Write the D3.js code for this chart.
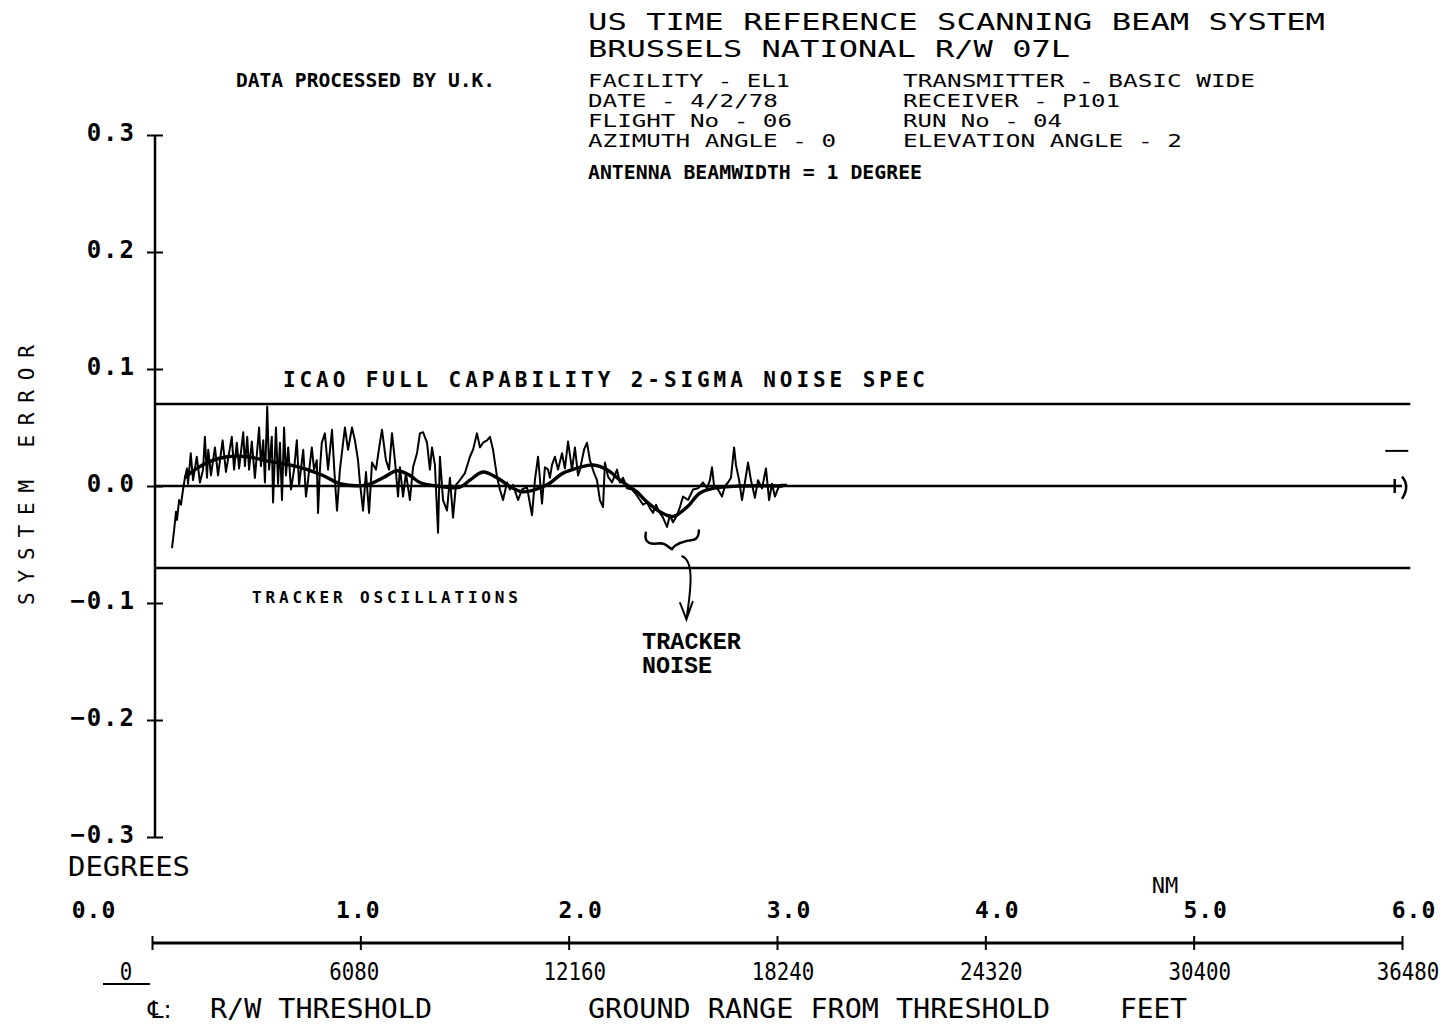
<!DOCTYPE html>
<html><head><meta charset="utf-8">
<script src="https://cdn.jsdelivr.net/npm/d3@7"></script>
<style>body{margin:0;background:#fff}svg{display:block}</style>
</head><body>
<svg id="c" width="1454" height="1024"></svg>
<script>
// ---- data ----
const yTicks = [0.3, 0.2, 0.1, 0.0, -0.1, -0.2, -0.3];
const yTickLabels = ["0.3", "0.2", "0.1", "0.0", "\u22120.1", "\u22120.2", "\u22120.3"];
const nmTicks = [0, 1, 2, 3, 4, 5, 6];
const nmTickLabels = ["0.0", "1.0", "2.0", "3.0", "4.0", "5.0", "6.0"];
const feetTickLabels = ["0", "6080", "12160", "18240", "24320", "30400", "36480"];
const specLimit = 0.07;

const rawNm = [
0.096,0.106,0.115,0.120,0.130,0.139,0.149,0.158,0.168,0.173,
0.186,0.197,0.215,0.230,0.245,0.254,0.264,0.270,0.283,0.302,
0.317,0.339,0.355,0.383,0.394,0.407,0.418,0.438,0.446,0.457,
0.466,0.479,0.494,0.514,0.523,0.534,0.542,0.553,0.562,0.575,
0.581,0.595,0.605,0.614,0.624,0.634,0.643,0.654,0.667,0.682,
0.695,0.706,0.726,0.739,0.749,0.767,0.778,0.791,0.797,0.806,
0.815,
0.830,0.845,0.864,0.878,0.888,0.902,0.926,0.941,0.960,0.974,
0.989,0.998,1.013,1.027,1.042,1.056,1.075,1.094,1.104,1.123,
1.138,1.152,1.166,1.181,1.190,1.205,1.219,1.238,1.253,1.272,
1.286,1.301,1.320,1.334,1.344,1.358,1.373,1.382,1.397,1.416,
1.430,1.445,1.459,1.478,1.502,1.526,1.541,1.560,1.574,1.589,
1.608,1.622,1.637,1.656,1.670,1.685,1.704,1.718,1.733,1.757,
1.776,1.800,1.824,1.838,1.853,1.872,1.886,1.901,1.910,1.920,
1.934,1.949,1.968,1.982,1.997,2.016,2.030,2.045,2.054,2.074,
2.088,2.102,2.122,2.136,2.150,2.165,2.174,2.189,2.208,2.232,
2.246,2.261,2.280,2.304,2.323,2.342,2.357,
2.376,2.390,2.405,2.419,2.434,2.453,2.472,2.486,2.501,2.520,
2.534,2.549,2.573,2.597,2.621,2.645,2.664,2.678,2.688,2.698,
2.717,2.736,2.750,2.765,2.779,2.794,2.803,2.818,2.832,2.846,
2.861,2.875,2.894,2.909,2.928,2.947,2.962,2.976,2.990,3.005,
3.019,3.048];
const rawErr = [
-0.053,-0.038,-0.022,-0.029,-0.012,-0.016,-0.003,0.007,0.015,0.002,
0.028,0.005,0.025,0.003,0.014,0.042,0.007,0.031,0.009,0.033,
0.009,0.039,0.012,0.042,0.014,0.037,0.015,0.046,0.017,0.042,
0.014,0.038,0.007,0.050,0.017,0.039,0.003,0.068,0.014,0.042,
-0.014,0.050,0.002,0.037,-0.012,0.050,0.009,0.033,-0.003,0.014,
0.039,0.001,0.031,-0.009,0.005,0.033,0.014,0.022,-0.023,0.014,
0.037,
0.045,0.014,0.048,0.005,-0.021,0.014,0.050,0.031,0.050,0.039,
0.022,0.003,-0.021,0.012,-0.023,0.020,0.014,0.037,0.048,0.022,
0.014,0.045,0.022,-0.009,0.016,-0.009,0.011,-0.012,0.016,0.028,
0.045,0.046,0.037,0.014,0.033,0.018,-0.040,0.025,-0.012,-0.021,
0.007,-0.027,0.001,0.005,0.011,0.025,0.031,0.045,0.033,0.037,
0.039,0.042,0.031,0.008,-0.003,-0.012,0.003,-0.003,0.001,-0.012,
-0.003,-0.001,-0.025,0.005,0.025,-0.015,0.016,0.014,0.007,0.018,
0.025,0.014,0.028,0.015,0.038,0.014,0.033,0.009,0.014,0.031,
0.037,0.022,0.011,0.005,-0.012,-0.018,0.020,0.008,0.003,0.014,
0.003,0.007,-0.002,-0.003,-0.007,-0.012,-0.016,
-0.014,-0.019,-0.023,-0.016,-0.022,-0.027,-0.035,-0.025,-0.031,-0.025,
-0.018,-0.009,-0.012,-0.003,-0.002,0.003,-0.002,0.005,0.016,0.000,
-0.003,-0.009,0.000,0.003,0.007,0.033,0.018,0.005,-0.012,0.003,
0.020,0.005,-0.010,0.005,-0.002,0.015,-0.012,0.002,-0.009,-0.002,
0.001,0.001];

const smoothNm = [0.158,0.206,0.278,0.360,0.456,0.566,0.710,0.821,0.902,1.032,1.109,1.176,1.238,1.286,1.368,1.478,1.526,1.589,1.656,1.733,1.781,1.896,1.973,2.054,2.117,2.184,2.246,2.328,2.366,2.438,2.501,2.568,2.630,2.693,2.822,3.029];
const smoothErr = [0.007,0.014,0.021,0.025,0.025,0.021,0.016,0.009,0.002,0.001,0.007,0.013,0.009,0.003,0.000,-0.001,0.005,0.012,0.007,-0.002,-0.005,0.001,0.011,0.016,0.018,0.014,0.005,-0.005,-0.012,-0.022,-0.026,-0.018,-0.006,-0.002,0.000,0.000];

// ---- drawing ----
const svg = d3.select("#c");
svg.append("rect").attr("width",1454).attr("height",1024).attr("fill","#fff");
const x = d3.scaleLinear().domain([0,6]).range([152,1402]);
const y = d3.scaleLinear().domain([-0.3,0.3]).range([837,135]);
const MONO = "'DejaVu Sans Mono', 'Liberation Mono', monospace";
const axisX = x(0) + 3;

function txt(px, py, s, size, o = {}) {
  const t = svg.append("text").attr("x", px).attr("y", py).text(s)
    .attr("font-family", o.family || MONO).attr("font-size", size)
    .attr("font-weight", o.weight || "normal").attr("fill", "#000")
    .attr("text-anchor", o.anchor || "start");
  if (o.len) t.attr("textLength", o.len).attr("lengthAdjust", o.adjust || "spacingAndGlyphs");
  if (o.ls) t.attr("letter-spacing", o.ls);
  if (o.transform) t.attr("transform", o.transform);
  return t;
}

// header
txt(588, 30, "US TIME REFERENCE SCANNING BEAM SYSTEM", 23, {len: 737});
txt(588, 57, "BRUSSELS NATIONAL R/W 07L", 23, {len: 482});
txt(236, 87, "DATA PROCESSED BY U.K.", 19, {weight: "bold", len: 259});
txt(588, 87, "FACILITY - EL1", 18, {len: 202});
txt(903, 87, "TRANSMITTER - BASIC WIDE", 18, {len: 352});
txt(588, 107, "DATE - 4/2/78", 18, {len: 190});
txt(903, 107, "RECEIVER - P101", 18, {len: 217});
txt(588, 127, "FLIGHT No - 06", 18, {len: 204});
txt(903, 127, "RUN No - 04", 18, {len: 159});
txt(588, 147, "AZIMUTH ANGLE - 0", 18, {len: 248});
txt(903, 147, "ELEVATION ANGLE - 2", 18, {len: 279});
txt(588, 179, "ANTENNA BEAMWIDTH = 1 DEGREE", 20, {weight: "bold", len: 334});

// y axis
svg.append("line").attr("x1", axisX).attr("x2", axisX).attr("y1", y(0.3)).attr("y2", y(-0.3))
  .attr("stroke", "#000").attr("stroke-width", 2.5);
const yAx = svg.append("g").attr("transform", `translate(${axisX},0)`)
  .call(d3.axisRight(y).tickValues(yTicks).tickSize(8).tickFormat(""));
yAx.select(".domain").remove();
yAx.selectAll(".tick line").attr("x1", -8).attr("x2", 8).attr("stroke", "#000").attr("stroke-width", 2);
yTicks.forEach((v, i) => {
  txt(136, y(v) + 6, yTickLabels[i], 24, {weight: "bold", anchor: "end", ls: 2});
});
txt(34, 475, "SYSTEM ERROR", 21, {anchor: "middle", len: 260, adjust: "spacing",
  transform: "rotate(-90 34 475)"});
txt(68, 876, "DEGREES", 26, {len: 122});

// reference lines
const hline = (v, x2, w) => svg.append("line").attr("x1", axisX).attr("x2", x2)
  .attr("y1", y(v)).attr("y2", y(v)).attr("stroke", "#000").attr("stroke-width", w);
hline(specLimit, x(6.04), 2.5);
hline(-specLimit, x(6.04), 2.5);
hline(0, x(6), 2.5);

// right-end marks
svg.append("line").attr("x1", x(5.92)).attr("x2", x(6.03)).attr("y1", y(0.03)).attr("y2", y(0.03))
  .attr("stroke", "#000").attr("stroke-width", 2);
svg.append("path").attr("fill", "none").attr("stroke", "#000").attr("stroke-width", 2.5)
  .attr("d", `M${x(5.965)},${y(0.006)}L${x(5.965)},${y(-0.006)} M${x(6.0)},${y(0.008)} Q${x(6.04)},${y(0.0)} ${x(6.0)},${y(-0.011)}`);

// annotation text
txt(283, 387, "ICAO FULL CAPABILITY 2-SIGMA NOISE SPEC", 21, {weight: "bold", len: 642, adjust: "spacing"});
txt(252, 603, "TRACKER OSCILLATIONS", 16, {weight: "bold", len: 266, adjust: "spacing"});
txt(642, 649, "TRACKER", 23, {weight: "bold", family: "'Liberation Mono', 'DejaVu Sans Mono', monospace", len: 99});
txt(642, 673, "NOISE", 23, {weight: "bold", family: "'Liberation Mono', 'DejaVu Sans Mono', monospace", len: 70});

// brace + arrow (positioned in data units)
const P = (n, d) => `${x(n).toFixed(1)},${y(d).toFixed(1)}`;
svg.append("path").attr("fill", "none").attr("stroke", "#000").attr("stroke-width", 2.5)
  .attr("stroke-linecap", "round")
  .attr("d", `M${P(2.37,-0.040)} C${P(2.36,-0.050)} ${P(2.40,-0.050)} ${P(2.44,-0.049)}` +
             ` C${P(2.47,-0.049)} ${P(2.48,-0.053)} ${P(2.495,-0.054)}` +
             ` C${P(2.51,-0.050)} ${P(2.55,-0.047)} ${P(2.60,-0.046)}` +
             ` C${P(2.62,-0.045)} ${P(2.625,-0.042)} ${P(2.625,-0.038)}`);
svg.append("path").attr("fill", "none").attr("stroke", "#000").attr("stroke-width", 2)
  .attr("stroke-linecap", "round")
  .attr("d", `M${P(2.545,-0.060)} C${P(2.60,-0.064)} ${P(2.59,-0.085)} ${P(2.565,-0.114)}` +
             ` M${P(2.535,-0.100)} L${P(2.565,-0.114)} L${P(2.595,-0.099)}`);

// data
const rawData = rawNm.map((n, i) => [n, rawErr[i]]);
const smoothData = smoothNm.map((n, i) => [n, smoothErr[i]]);
svg.append("path").datum(rawData).attr("fill", "none").attr("stroke", "#000")
  .attr("stroke-width", 2).attr("stroke-linejoin", "round")
  .attr("d", d3.line().x(d => x(d[0])).y(d => y(d[1])));
svg.append("path").datum(smoothData).attr("fill", "none").attr("stroke", "#000")
  .attr("stroke-width", 3.4).attr("stroke-linejoin", "round")
  .attr("d", d3.line().curve(d3.curveCatmullRom).x(d => x(d[0])).y(d => y(d[1])));

// bottom axis
const xAx = svg.append("g").attr("transform", "translate(0,943)")
  .call(d3.axisBottom(x).tickValues(nmTicks).tickSize(6).tickFormat(""));
xAx.select(".domain").attr("stroke", "#000").attr("stroke-width", 3).attr("d", `M${x(0)},0H${x(6)}`);
xAx.selectAll(".tick line").attr("y1", -7).attr("y2", 7).attr("stroke", "#000").attr("stroke-width", 2);
nmTicks.forEach((v, i) => {
  const cx = v === 0 ? 94 : (v === 1 ? x(v) - 2 : x(v) + 12);
  txt(cx, 918, nmTickLabels[i], 23, {weight: "bold", anchor: "middle", ls: 1});
  const fx = v === 0 ? 126 : x(v) - 6 + (v >= 2 ? 12 : 0);
  txt(fx, 980, feetTickLabels[i], 24, {anchor: "middle", len: 12.5 * feetTickLabels[i].length});
});
svg.append("line").attr("x1", 103).attr("x2", 150).attr("y1", 984).attr("y2", 984)
  .attr("stroke", "#000").attr("stroke-width", 2);
txt(1165, 893, "NM", 22, {anchor: "middle"});

// footer
txt(148, 1018, "\u2104:", 24, {family: "'DejaVu Sans', sans-serif"});
txt(210, 1018, "R/W THRESHOLD", 26, {len: 222});
txt(588, 1018, "GROUND RANGE FROM THRESHOLD", 26, {len: 462});
txt(1120, 1018, "FEET", 26, {len: 67});
</script>
</body></html>
